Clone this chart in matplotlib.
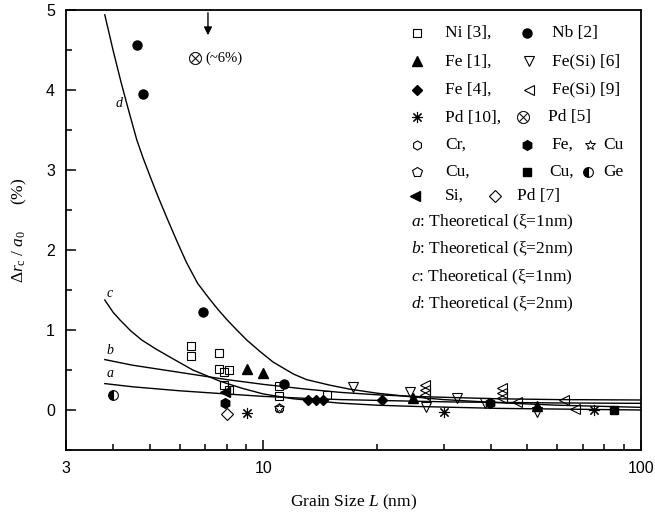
# Cambio relativo de r_c / a_0 frente al tamaño de grano L, con curvas teoricas a-d
import matplotlib.pyplot as plt
import numpy as np

plt.rcParams['font.family'] = 'Liberation Serif'
plt.rcParams['mathtext.fontset'] = 'custom'
plt.rcParams['mathtext.rm'] = 'Liberation Serif'
plt.rcParams['mathtext.it'] = 'Liberation Serif:italic'

# datos experimentales (L en nm, valor en %)
ni3_L = [6.43, 6.43, 7.64, 7.64, 7.88, 8.12, 7.88, 8.12, 11.0, 11.0, 14.7]
ni3_v = [0.80, 0.675, 0.71, 0.51, 0.47, 0.50, 0.31, 0.25, 0.30, 0.17, 0.19]
nb2_L = [4.62, 4.81, 6.93, 11.34]
nb2_v = [4.56, 3.95, 1.22, 0.325]
fe1_L = [9.03, 9.99, 24.9, 52.9]
fe1_v = [0.51, 0.46, 0.146, 0.05]
fesi6_L = [17.3, 24.4, 27.0, 32.5, 38.6, 52.9]
fesi6_v = [0.29, 0.23, 0.04, 0.146, 0.083, -0.03]
fe4_L = [13.15, 13.78, 14.4, 20.6]
fe4_v = [0.13, 0.13, 0.13, 0.125]
fesi9_L = [26.8, 26.8, 26.8, 42.8, 42.8, 42.8, 46.9, 62.5, 66.8]
fesi9_v = [0.31, 0.25, 0.19, 0.27, 0.21, 0.146, 0.10, 0.125, 0.01]
pd10_L = [9.03, 30.1, 75.0]
pd10_v = [-0.04, -0.02, 0.0]
pd5_L = [6.59]
pd5_v = [4.40]
cr_L = [11.0]
cr_v = [0.03]
fehex_L = [7.9, 39.8]
fehex_v = [0.09, 0.083]
custar_L = [11.0]
custar_v = [0.03]
cusq_L = [84.8]
cusq_v = [0.0]
ge_L = [4.0]
ge_v = [0.19]
si_L = [7.9]
si_v = [0.23]
pd7_L = [8.0]
pd7_v = [-0.05]

# curvas teoricas
curva_a_L = [3.8, 4.5, 6.0, 8.0, 10, 13, 16, 20, 25, 32, 42, 60, 100]
curva_a_v = [0.33, 0.29, 0.24, 0.20, 0.17, 0.145, 0.13, 0.12, 0.11, 0.10, 0.095, 0.088, 0.083]
curva_b_L = [3.8, 4.5, 6.0, 8.0, 10, 13, 16, 20, 25, 32, 42, 60, 100]
curva_b_v = [0.63, 0.56, 0.47, 0.38, 0.32, 0.26, 0.22, 0.19, 0.17, 0.155, 0.14, 0.13, 0.125]
curva_c_L = [3.8, 4.0, 4.17, 4.45, 4.76, 5.2, 5.66, 6.5, 7.67, 8.8, 10, 12, 16, 20, 25, 42, 100]
curva_c_v = [1.375, 1.22, 1.125, 0.99, 0.875, 0.76, 0.66, 0.50, 0.36, 0.27, 0.20, 0.14, 0.085, 0.06, 0.045, 0.02, 0.0]
curva_d_L = [3.8, 4.0, 4.2, 4.4, 4.62, 4.8, 5.01, 5.25, 5.54, 5.9, 6.26, 6.7, 7.22, 7.6, 8.0,
             8.5, 9.03, 9.8, 10.6, 12.0, 13.0, 15.0, 16.95, 20, 24, 30, 42.4, 60, 100]
curva_d_v = [4.94, 4.49, 4.09, 3.735, 3.375, 3.15, 2.92, 2.675, 2.41, 2.11, 1.84, 1.58, 1.38, 1.25, 1.13,
             1.0, 0.875, 0.73, 0.60, 0.45, 0.38, 0.31, 0.26, 0.21, 0.17, 0.13, 0.09, 0.06, 0.033]

k = 'black'
estilos = {
    'ni3': dict(marker='s', ms=6, mfc='none', mec=k, mew=0.8),
    'nb2': dict(marker='o', ms=6.5, mfc=k, mec=k),
    'fe1': dict(marker='^', ms=7, mfc=k, mec=k),
    'fesi6': dict(marker='v', ms=7, mfc='none', mec=k, mew=0.8),
    'fe4': dict(marker='D', ms=5.5, mfc=k, mec=k),
    'fesi9': dict(marker='<', ms=7, mfc='none', mec=k, mew=0.8),
    'pd10': dict(marker=(8, 2, 0), ms=8, mec=k, mew=0.8),
    'pd5': dict(marker='$\\otimes$', ms=9, mfc=k, mec=k, mew=0.3),
    'cr': dict(marker='h', ms=6.5, mfc='none', mec=k, mew=0.8),
    'fehex': dict(marker='h', ms=7, mfc=k, mec=k),
    'custar': dict(marker='*', ms=7, mfc='none', mec=k, mew=0.7),
    'cupent': dict(marker='p', ms=7, mfc='none', mec=k, mew=0.8),
    'cusq': dict(marker='s', ms=6, mfc=k, mec=k),
    'ge': dict(marker='o', ms=7, fillstyle='left', mfc=k, mfcalt='white', mec=k, mew=0.8),
    'si': dict(marker='<', ms=7, mfc=k, mec=k),
    'pd7': dict(marker='D', ms=6, mfc='none', mec=k, mew=0.8),
}

fig = plt.figure(figsize=(6.55, 5.18), dpi=100)
ax = fig.add_axes([0.1008, 0.1313, 0.8778, 0.8494])

for Lc, vc in [(curva_a_L, curva_a_v), (curva_b_L, curva_b_v),
               (curva_c_L, curva_c_v), (curva_d_L, curva_d_v)]:
    ax.plot(Lc, vc, color=k, lw=1.0)

series = [('ni3', ni3_L, ni3_v), ('nb2', nb2_L, nb2_v), ('fe1', fe1_L, fe1_v),
          ('fesi6', fesi6_L, fesi6_v), ('fe4', fe4_L, fe4_v), ('fesi9', fesi9_L, fesi9_v),
          ('pd10', pd10_L, pd10_v), ('pd5', pd5_L, pd5_v), ('cr', cr_L, cr_v),
          ('fehex', fehex_L, fehex_v), ('custar', custar_L, custar_v), ('cusq', cusq_L, cusq_v),
          ('ge', ge_L, ge_v), ('si', si_L, si_v), ('pd7', pd7_L, pd7_v)]
for nombre, Ls, vs in series:
    ax.plot(Ls, vs, ls='none', **estilos[nombre])

# etiquetas de las curvas
ax.text(4.15, 3.83, 'd', style='italic', fontsize=10, ha='center', va='center')
ax.text(3.92, 1.45, 'c', style='italic', fontsize=10, ha='center', va='center')
ax.text(3.92, 0.74, 'b', style='italic', fontsize=10, ha='center', va='center')
ax.text(3.92, 0.45, 'a', style='italic', fontsize=10, ha='center', va='center')

# flecha y nota del punto fuera de escala
ax.annotate('', xy=(7.13, 4.65), xytext=(7.13, 5.0),
            arrowprops=dict(arrowstyle='-|>', color=k, lw=1, mutation_scale=12))
ax.text(7.0, 4.40, '(~6%)', fontsize=10.5, va='center')

ax.set_xscale('log')
ax.set_xlim(3, 100)
ax.set_ylim(-0.5, 5)
ax.set_xticks([3, 10, 100])
ax.set_xticklabels(['3', '10', '100'])
ax.set_xticks([4, 5, 6, 7, 8, 9, 20, 30, 40, 50, 60, 70, 80, 90], minor=True)
ax.xaxis.set_minor_formatter(plt.NullFormatter())
ax.set_yticks([0, 1, 2, 3, 4, 5])
ax.set_yticks([-0.5, 0.5, 1.5, 2.5, 3.5, 4.5], minor=True)
ax.tick_params(which='both', direction='in', top=False, right=False, width=1.1)
ax.tick_params(which='major', length=7, pad=8)
ax.tick_params(which='minor', length=4)
for lab in ax.get_xticklabels() + ax.get_yticklabels():
    lab.set_family('Liberation Sans')
    lab.set_fontsize(11.5)
for s in ax.spines.values():
    s.set_linewidth(1.3)

ax.set_xlabel('Grain Size $L$ (nm)', fontsize=12.5, labelpad=12)
ax.set_ylabel(r'$\Delta r_{\rm c}\ /\ a_{\rm 0}$      (%)', fontsize=12.5, labelpad=12)

# leyenda dibujada a mano
def simb(fx, fy, nombre):
    ax.plot([fx], [fy], transform=ax.transAxes, clip_on=False, ls='none', **estilos[nombre])

def txt(fx, fy, s):
    ax.text(fx, fy, s, transform=ax.transAxes, fontsize=12.5, va='center', ha='left')

filas = [0.948, 0.883, 0.819, 0.756, 0.693, 0.632, 0.577, 0.518, 0.455, 0.392, 0.330]
simb(0.610, filas[0], 'ni3'); txt(0.659, filas[0], 'Ni [3],')
simb(0.801, filas[0], 'nb2'); txt(0.845, filas[0], 'Nb [2]')
simb(0.610, filas[1], 'fe1'); txt(0.659, filas[1], 'Fe [1],')
simb(0.805, filas[1], 'fesi6'); txt(0.845, filas[1], 'Fe(Si) [6]')
simb(0.610, filas[2], 'fe4'); txt(0.659, filas[2], 'Fe [4],')
simb(0.805, filas[2], 'fesi9'); txt(0.845, filas[2], 'Fe(Si) [9]')
simb(0.610, filas[3], 'pd10'); txt(0.659, filas[3], 'Pd [10],')
simb(0.795, filas[3], 'pd5'); txt(0.838, filas[3], 'Pd [5]')
simb(0.610, filas[4], 'cr'); txt(0.659, filas[4], 'Cr,')
simb(0.801, filas[4], 'fehex'); txt(0.845, filas[4], 'Fe,')
simb(0.912, filas[4], 'custar'); txt(0.935, filas[4], 'Cu')
simb(0.610, filas[5], 'cupent'); txt(0.659, filas[5], 'Cu,')
simb(0.801, filas[5], 'cusq'); txt(0.840, filas[5], 'Cu,')
simb(0.907, filas[5], 'ge'); txt(0.935, filas[5], 'Ge')
simb(0.607, filas[6], 'si'); txt(0.659, filas[6], 'Si,')
simb(0.746, filas[6], 'pd7'); txt(0.784, filas[6], 'Pd [7]')
txt(0.600, filas[7], '$a$: Theoretical (ξ=1nm)')
txt(0.600, filas[8], '$b$: Theoretical (ξ=2nm)')
txt(0.600, filas[9], '$c$: Theoretical (ξ=1nm)')
txt(0.600, filas[10], '$d$: Theoretical (ξ=2nm)')

fig.savefig('out.png', dpi=100)
